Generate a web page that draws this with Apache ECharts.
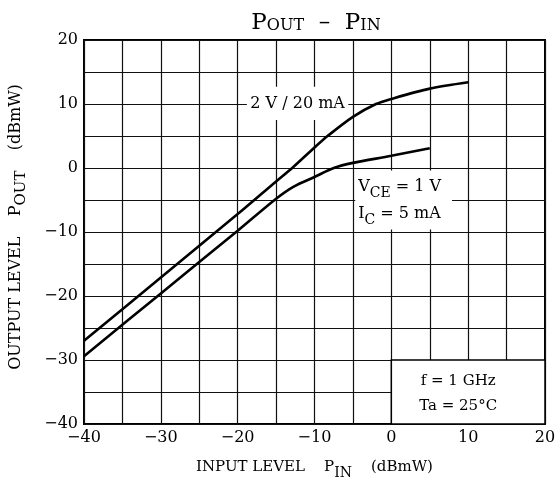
<!DOCTYPE html>
<html>
<head>
<meta charset="utf-8">
<title>POUT - PIN</title>
<script src="https://cdn.jsdelivr.net/npm/echarts@6/dist/echarts.min.js"></script>
<style>
html, body { margin: 0; padding: 0; background: #fff; }
#main { width: 559px; height: 492px; }
</style>
</head>
<body>
<div id="main"></div>
<script>
// 2 V / 20 mA curve
var upperX = [-40, -30, -20, -15, -12.9, -10, -8.3, -5, -2, 0, 5, 10];
var upperY = [-27, -17.1, -7.2, -2.1, 0, 3.2, 5, 8, 10, 10.8, 12.4, 13.4];
// VCE = 1 V, IC = 5 mA curve
var lowerX = [-40, -30, -20, -15, -12.7, -10, -7.5, -5, 0, 5];
var lowerY = [-29.4, -19.6, -9.8, -4.8, -2.9, -1.4, 0, 0.8, 1.9, 3.1];

var xTicks = [-40, -30, -20, -10, 0, 10, 20];
var yTicks = [-40, -30, -20, -10, 0, 10, 20];

var FONT = 'DejaVu Serif';

function pairs(xs, ys) {
  var out = [];
  for (var i = 0; i < xs.length; i++) out.push([xs[i], ys[i]]);
  return out;
}
function tickFmt(ticks) {
  return function (v) {
    if (ticks.indexOf(v) < 0) return '';
    return v < 0 ? '\u2212' + Math.abs(v) : String(v);
  };
}

var chart = echarts.init(document.getElementById('main'));

var option = {
  animation: false,
  backgroundColor: '#fff',
  title: {
    text: '{p|P}{s|OUT}{p|  \u2013  P}{s|IN}',
    left: 311,
    top: 4,
    textAlign: 'center',
    textStyle: {
      rich: {
        p: { fontFamily: FONT, fontSize: 23, fontWeight: 'normal', color: '#000', verticalAlign: 'bottom', lineHeight: 26 },
        s: { fontFamily: FONT, fontSize: 16, fontWeight: 'normal', color: '#000', verticalAlign: 'bottom', lineHeight: 26, padding: [0, 0, 1, 0] }
      }
    }
  },
  grid: {
    left: 83, right: 14, top: 40, bottom: 68,
    show: true, borderColor: '#000', borderWidth: 2, backgroundColor: 'transparent'
  },
  xAxis: {
    type: 'value', min: -40, max: 20, interval: 5,
    axisLine: { show: false },
    axisTick: { show: false },
    axisLabel: { formatter: tickFmt(xTicks), color: '#000', fontFamily: FONT, fontSize: 16, margin: 6, showMinLabel: true, showMaxLabel: true },
    splitLine: { show: true, lineStyle: { color: '#111', width: 1.2 } },
    name: '{n|INPUT LEVEL    P}{sub|IN}{n|    (dBmW)}',
    nameLocation: 'middle',
    nameGap: 34,
    nameTextStyle: {
      rich: {
        n: { fontFamily: FONT, fontSize: 15, color: '#000', lineHeight: 22, verticalAlign: 'bottom', padding: [0, 0, 5, 0] },
        sub: { fontFamily: FONT, fontSize: 14, color: '#000', lineHeight: 22, verticalAlign: 'bottom' }
      }
    }
  },
  yAxis: {
    type: 'value', min: -40, max: 20, interval: 5,
    axisLine: { show: false },
    axisTick: { show: false },
    axisLabel: { formatter: tickFmt(yTicks), color: '#000', fontFamily: FONT, fontSize: 16, margin: 6, showMinLabel: true, showMaxLabel: true },
    splitLine: { show: true, lineStyle: { color: '#111', width: 1.2 } },
    name: '{n|OUTPUT LEVEL    P}{sub|OUT}{n|    (dBmW)}',
    nameLocation: 'middle',
    nameGap: 55,
    nameTextStyle: {
      padding: [0, 0, 0, 10],
      rich: {
        n: { fontFamily: FONT, fontSize: 16, color: '#000', lineHeight: 22, verticalAlign: 'bottom', padding: [0, 0, 5, 0] },
        sub: { fontFamily: FONT, fontSize: 15, color: '#000', lineHeight: 22, verticalAlign: 'bottom' }
      }
    }
  },
  series: [
    {
      name: 'masks',
      type: 'line',
      data: [],
      silent: true,
      markArea: {
        silent: true,
        data: [
          [
            {
              coord: [-18.8, 12.7],
              itemStyle: { color: '#fff', borderWidth: 0 },
              label: {
                show: true, position: 'inside',
                formatter: '2 V / 20 mA',
                fontFamily: FONT, fontSize: 16, color: '#000'
              }
            },
            { coord: [-5.6, 7.5] }
          ],
          [
            {
              coord: [-4.7, -0.4],
              itemStyle: { color: '#fff', borderWidth: 0 },
              label: {
                show: true, position: 'insideLeft', distance: 3,
                formatter: '{n|V}{s|CE}{n| = 1 V}\n{n|I}{s|C}{n| = 5 mA}',
                rich: {
                  n: { fontFamily: FONT, fontSize: 16, color: '#000', lineHeight: 27, verticalAlign: 'bottom', padding: [0, 0, 5, 0] },
                  s: { fontFamily: FONT, fontSize: 14, color: '#000', lineHeight: 27, verticalAlign: 'bottom' }
                }
              }
            },
            { coord: [7.9, -9.6] }
          ],
          [
            {
              coord: [0, -30],
              itemStyle: { color: '#fff', borderColor: '#000', borderWidth: 1.5 },
              label: {
                show: true, position: 'inside',
                formatter: 'f = 1 GHz\nTa = 25\u00b0C',
                fontFamily: FONT, fontSize: 15, color: '#000', lineHeight: 25, offset: [-10, 2]
              }
            },
            { coord: [20, -40] }
          ]
        ]
      }
    },
    {
      name: '2 V / 20 mA',
      type: 'line',
      data: pairs(upperX, upperY),
      smooth: 0.3,
      showSymbol: false,
      lineStyle: { color: '#000', width: 2.6 },
      z: 5
    },
    {
      name: 'VCE = 1 V, IC = 5 mA',
      type: 'line',
      data: pairs(lowerX, lowerY),
      smooth: 0.3,
      showSymbol: false,
      lineStyle: { color: '#000', width: 2.6 },
      z: 5
    }
  ]
};

chart.setOption(option);
</script>
</body>
</html>
